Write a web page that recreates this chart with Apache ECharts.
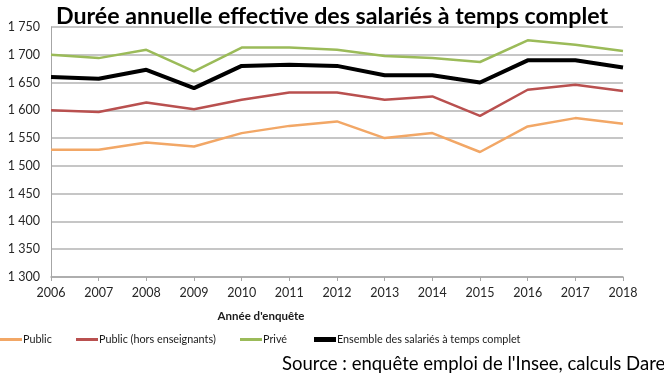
<!DOCTYPE html>
<html><head><meta charset="utf-8">
<script src="https://cdn.jsdelivr.net/npm/echarts@6/dist/echarts.min.js"></script>
<style>html,body{margin:0;padding:0;background:#fff}#c{width:664px;height:374px}</style>
</head><body><div id="c"></div>
<script>
const years = ['2006','2007','2008','2009','2010','2011','2012','2013','2014','2015','2016','2017','2018'];
const publicVals = [1529,1529,1542,1535,1559,1572,1580,1550,1559,1525,1571,1586,1576];
const publicHorsEns = [1600,1597,1614,1602,1619,1632,1632,1619,1625,1590,1637,1646,1635];
const prive = [1700,1694,1709,1670,1713,1713,1709,1698,1694,1687,1726,1718,1707];
const ensemble = [1660,1657,1673,1640,1680,1682,1680,1663,1663,1650,1690,1690,1677];
const names = ['Public','Public (hors enseignants)','Privé','Ensemble des salariés à temps complet'];
const colors = ['#f2a766','#b9504f','#9bbb59','#000000'];
const FONT = 'Lato';
const chart = echarts.init(document.getElementById('c'));
const mkLegend = (i, left, h) => ({
  data: [names[i]], left: left, top: 334, itemWidth: 22, itemHeight: h, itemGap: 0,
  icon: 'rect', padding: 0,
  textStyle: {fontFamily: FONT, fontSize: 10.8, color: '#1a1a1a', padding: [0,0,0,-4]}
});
const mkSeries = (i, data, w) => ({
  name: names[i], type: 'line', data: data, symbol: 'none', smooth: false,
  lineStyle: {color: colors[i], width: w}, itemStyle: {color: colors[i]}
});
chart.setOption({
  animation: false,
  title: {text: 'Durée annuelle effective des salariés à temps complet', left: 'center', top: 0,
    textStyle: {fontFamily: FONT, fontSize: 23.2, fontWeight: 'bold', color: '#000'}},
  grid: {left: 51, right: 41, top: 27, bottom: 97},
  legend: [mkLegend(0, 0, 3), mkLegend(1, 76, 3), mkLegend(2, 240, 3), mkLegend(3, 314, 5)],
  graphic: [
    {type: 'text', x: 261, y: 316, style: {text: "Année d'enquête", fontFamily: FONT, fontSize: 11.5,
      fontWeight: 'bold', fill: '#1a1a1a', align: 'center', verticalAlign: 'middle'}},
    {type: 'text', x: 282, y: 364, style: {text: "Source : enquête emploi de l'Insee, calculs Dares",
      fontFamily: FONT, fontSize: 18.5, fill: '#000', align: 'left', verticalAlign: 'middle'}}],
  xAxis: {type: 'category', data: years, boundaryGap: false,
    axisLine: {lineStyle: {color: '#a6a6a6', width: 1.5}},
    axisTick: {show: true, length: 4, lineStyle: {color: '#a6a6a6'}},
    axisLabel: {fontFamily: FONT, fontSize: 12.5, color: '#262626', margin: 9}},
  yAxis: {type: 'value', min: 1300, max: 1750, interval: 50,
    axisLine: {show: true, lineStyle: {color: '#a6a6a6', width: 1}},
    axisTick: {show: false},
    splitLine: {lineStyle: {color: '#b3b3b3', width: 1.5}},
    axisLabel: {fontFamily: FONT, fontSize: 12.5, color: '#262626', margin: 11,
      formatter: v => String(v).replace(/\B(?=(\d{3})+(?!\d))/g, ' ')}},
  series: [mkSeries(0, publicVals, 2.5), mkSeries(1, publicHorsEns, 2.5), mkSeries(2, prive, 2.5), mkSeries(3, ensemble, 4)]
});
</script></body></html>
